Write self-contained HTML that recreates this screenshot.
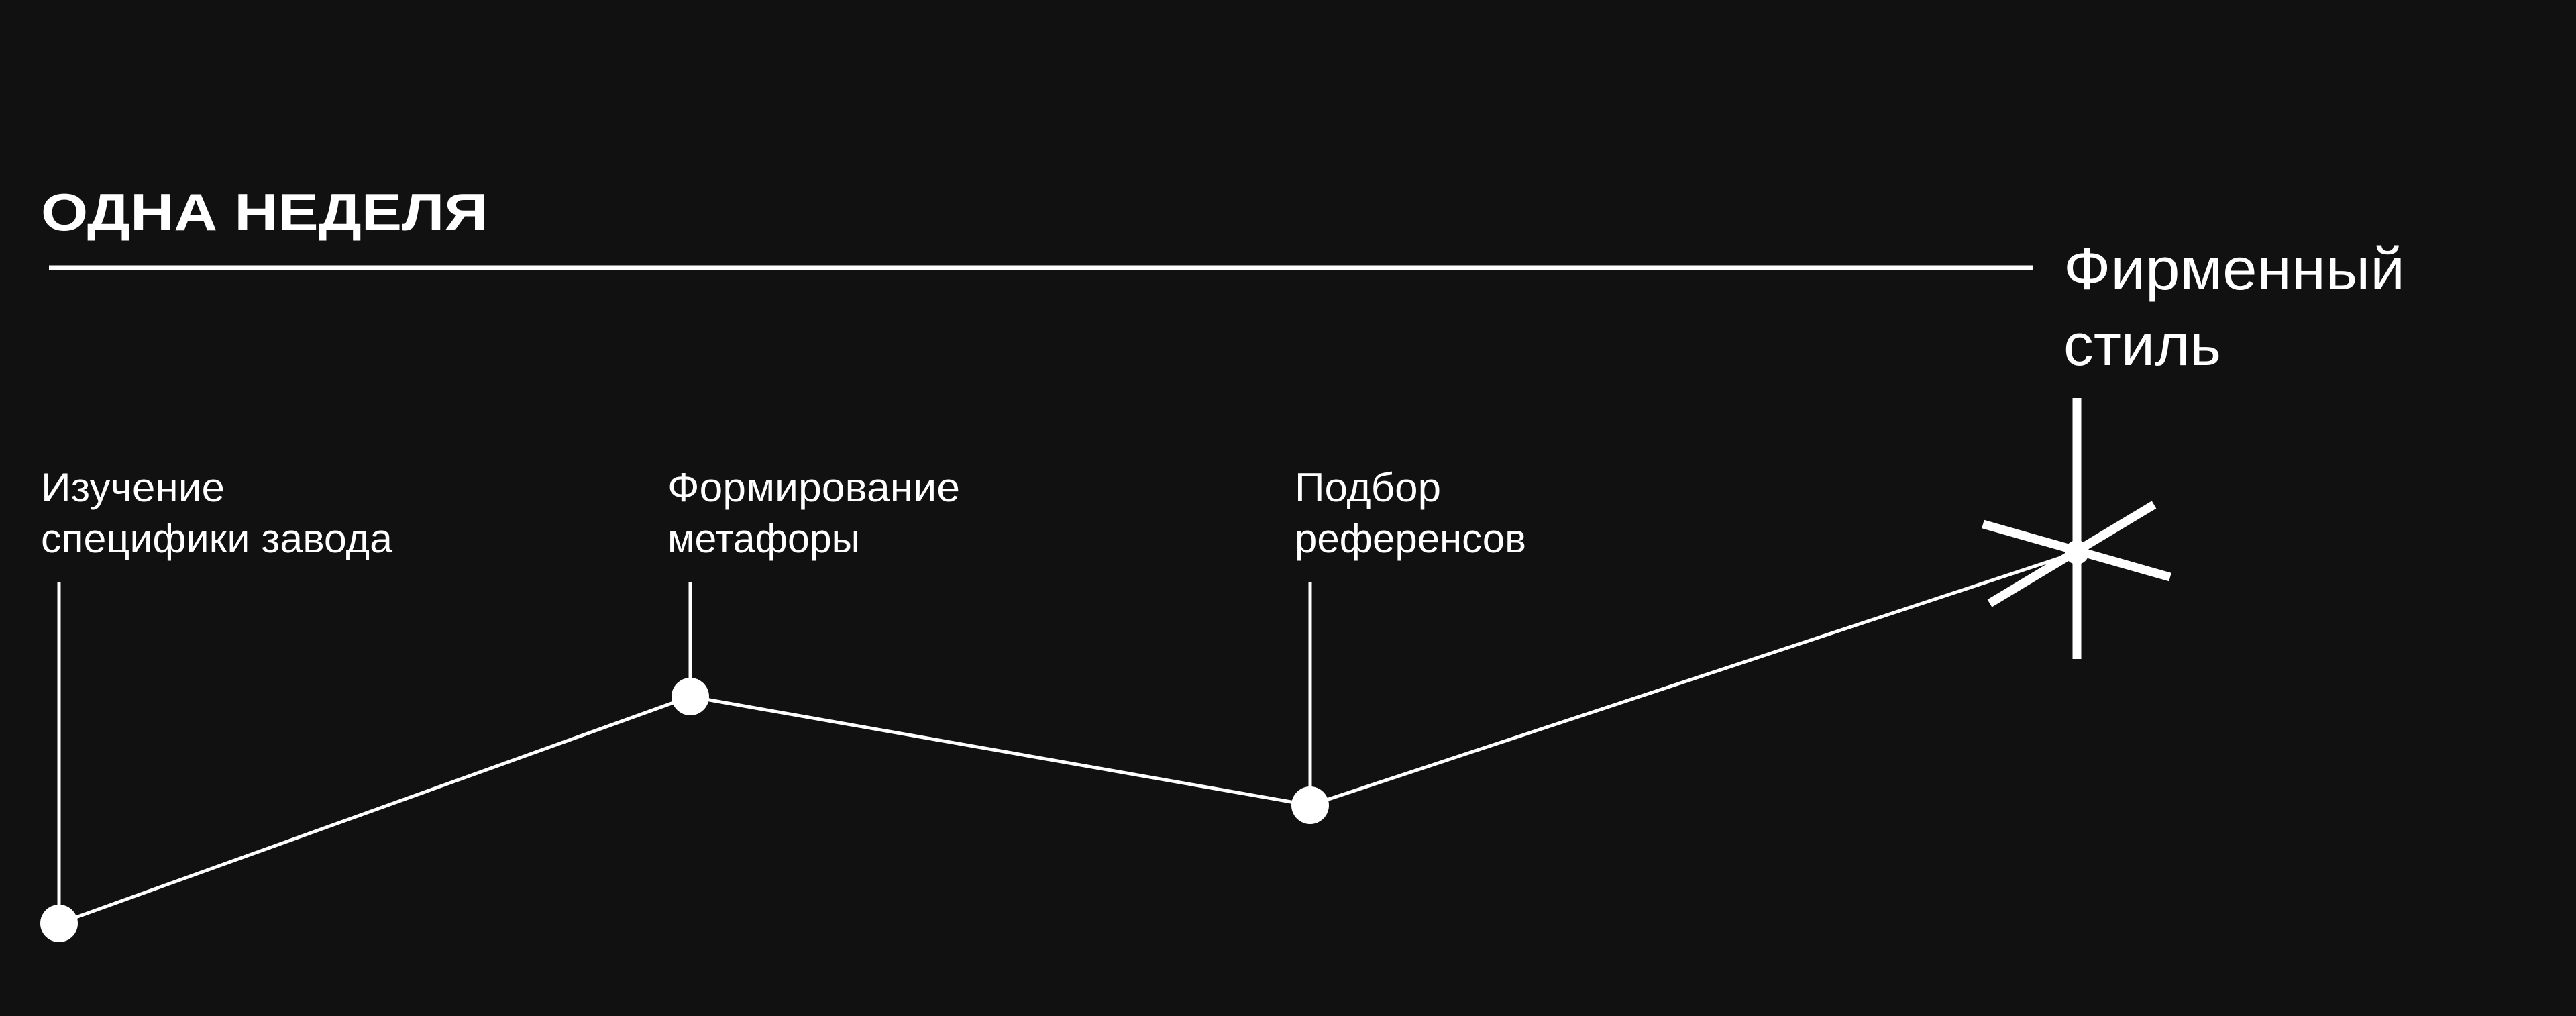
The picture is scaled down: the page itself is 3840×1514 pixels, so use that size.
<!DOCTYPE html>
<html><head><meta charset="utf-8"><style>
html,body{margin:0;padding:0;background:#111111;}
svg{display:block;}
text{font-family:"Liberation Sans",sans-serif;fill:#fff;}
</style></head><body>
<svg width="3840" height="1514" viewBox="0 0 3840 1514" xmlns="http://www.w3.org/2000/svg">
<rect width="3840" height="1514" fill="#111111"/>
<text x="61" y="343" font-size="78" font-weight="bold" textLength="666" lengthAdjust="spacingAndGlyphs">ОДНА НЕДЕЛЯ</text>
<line x1="73" y1="399" x2="3030" y2="399" stroke="#fff" stroke-width="7"/>
<text x="3076" y="431" font-size="88" textLength="509" lengthAdjust="spacingAndGlyphs">Фирменный</text>
<text x="3076" y="544" font-size="88" textLength="235" lengthAdjust="spacingAndGlyphs">стиль</text>

<g font-size="60">
<text x="61" y="747" textLength="274" lengthAdjust="spacingAndGlyphs">Изучение</text>
<text x="61" y="823" textLength="524" lengthAdjust="spacingAndGlyphs">специфики завода</text>
<text x="995" y="747" textLength="436" lengthAdjust="spacingAndGlyphs">Формирование</text>
<text x="995" y="823" textLength="287" lengthAdjust="spacingAndGlyphs">метафоры</text>
<text x="1930" y="747" textLength="218" lengthAdjust="spacingAndGlyphs">Подбор</text>
<text x="1930" y="823" textLength="345" lengthAdjust="spacingAndGlyphs">референсов</text>
</g>

<g stroke="#fff" stroke-width="5">
<line x1="88" y1="867" x2="88" y2="1376"/>
<line x1="1029" y1="867" x2="1029" y2="1038"/>
<line x1="1953" y1="867" x2="1953" y2="1200"/>
</g>
<polyline points="88,1376 1029,1038 1953,1200 3096,823" fill="none" stroke="#fff" stroke-width="5"/>
<circle cx="88" cy="1376" r="28" fill="#fff"/>
<circle cx="1029" cy="1038" r="28" fill="#fff"/>
<circle cx="1953" cy="1200" r="28" fill="#fff"/>

<g stroke="#fff" stroke-width="13">
<line x1="3096" y1="593" x2="3096" y2="982"/>
<line x1="2956" y1="781" x2="3235" y2="860"/>
<line x1="3211" y1="752" x2="2966" y2="899"/>
</g>
<circle cx="3096" cy="823" r="18" fill="#fff"/>
</svg>
</body></html>
